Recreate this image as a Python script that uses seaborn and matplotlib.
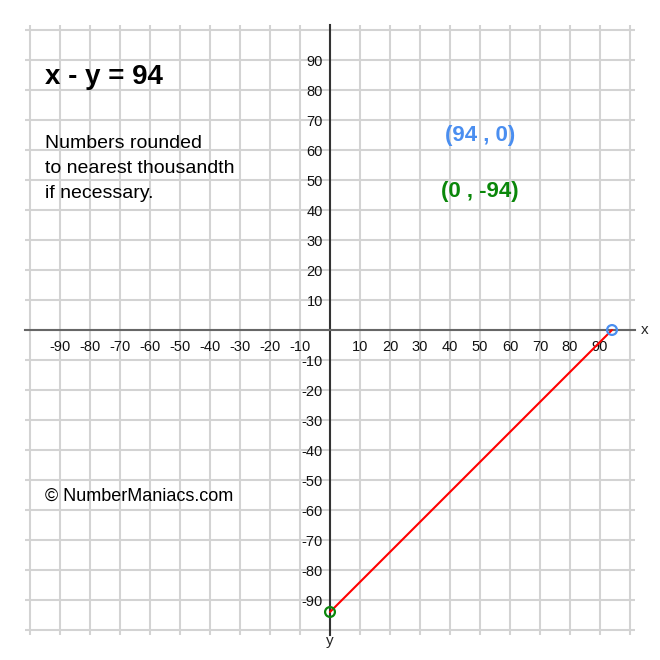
import matplotlib
matplotlib.use("Agg")
import matplotlib.pyplot as plt
import seaborn as sns
import pandas as pd

# ---- data ----
equation = "x - y = 94"
note_lines = ["Numbers rounded", "to nearest thousandth", "if necessary."]
credit = "© NumberManiacs.com"
x_int_label = "(94 , 0)"
y_int_label = "(0 , -94)"
line_x = [0, 94]
line_y = [-94, 0]
point_x = [94, 0]
point_y = [0, -94]
point_names = ["x-intercept", "y-intercept"]
grid_ticks = list(range(-100, 101, 10))
tick_labels = ["" if v in (-100, 0, 100) else str(v) for v in grid_ticks]

BLUE = "#4a8ef0"
GREEN = "#0a870a"

sns.set_style("white")
plt.rcParams['font.family'] = ['Liberation Sans', 'DejaVu Sans']

W = 660
fig = plt.figure(figsize=(6.6, 6.6), dpi=100)
ax = fig.add_axes([25 / W, 25 / W, 610 / W, 610 / W])
lim = 100 + 5 / 3
ax.set_xlim(-lim, lim)
ax.set_ylim(-lim, lim)
ax.set_xticks(grid_ticks)
ax.set_yticks(grid_ticks)
ax.set_xticklabels(tick_labels)
ax.set_yticklabels(tick_labels)
ax.grid(True, color="#d3d3d3", lw=1.5)
ax.set_axisbelow(True)
for s in ["top", "right"]:
    ax.spines[s].set_visible(False)
ax.spines["left"].set_position("zero")
ax.spines["bottom"].set_position("zero")
ax.spines["left"].set_color("#333333")
ax.spines["bottom"].set_color("#666666")
ax.spines["left"].set_linewidth(1.5)
ax.spines["bottom"].set_linewidth(1.5)
ax.spines["left"].set_zorder(2.5)
ax.spines["bottom"].set_zorder(2.5)
ax.tick_params(axis="x", length=0, labelsize=10.5, pad=7, labelcolor="#111111")
ax.tick_params(axis="y", length=0, labelsize=10.5, pad=5, labelcolor="#111111")

line_df = pd.DataFrame({"x": line_x, "y": line_y})
sns.lineplot(data=line_df, x="x", y="y", ax=ax, color="red", lw=1.5,
             zorder=3, sort=False)
pts = pd.DataFrame({"x": point_x, "y": point_y, "name": point_names})
for (_, r), c in zip(pts.iterrows(), [BLUE, GREEN]):
    sns.scatterplot(x=[r["x"]], y=[r["y"]], ax=ax, marker="o", s=50,
                    facecolors="none", edgecolor=c, linewidth=1.6, zorder=4)
ax.set_xlabel("")
ax.set_ylabel("")


def px(x, y):
    return x / W, 1 - y / W


fig.text(*px(45, 84), equation, fontsize=20, fontweight="bold",
         va="baseline", ha="left", color="black")
for i, ln in enumerate(note_lines):
    fig.text(*px(45, 148 + 25 * i), ln, fontsize=14, va="baseline",
             ha="left", color="black")
fig.text(*px(480, 135), x_int_label, fontsize=16, fontweight="bold",
         color=BLUE, ha="center", va="center")
fig.text(*px(480, 192), y_int_label, fontsize=16, fontweight="bold",
         color=GREEN, ha="center", va="center")
fig.text(*px(45, 501), credit, fontsize=13, va="baseline", ha="left",
         color="black")
fig.text(*px(645, 330), "x", fontsize=11, ha="center", va="center")
fig.text(*px(330, 641), "y", fontsize=11, ha="center", va="center")

fig.savefig("out.png", dpi=100)
